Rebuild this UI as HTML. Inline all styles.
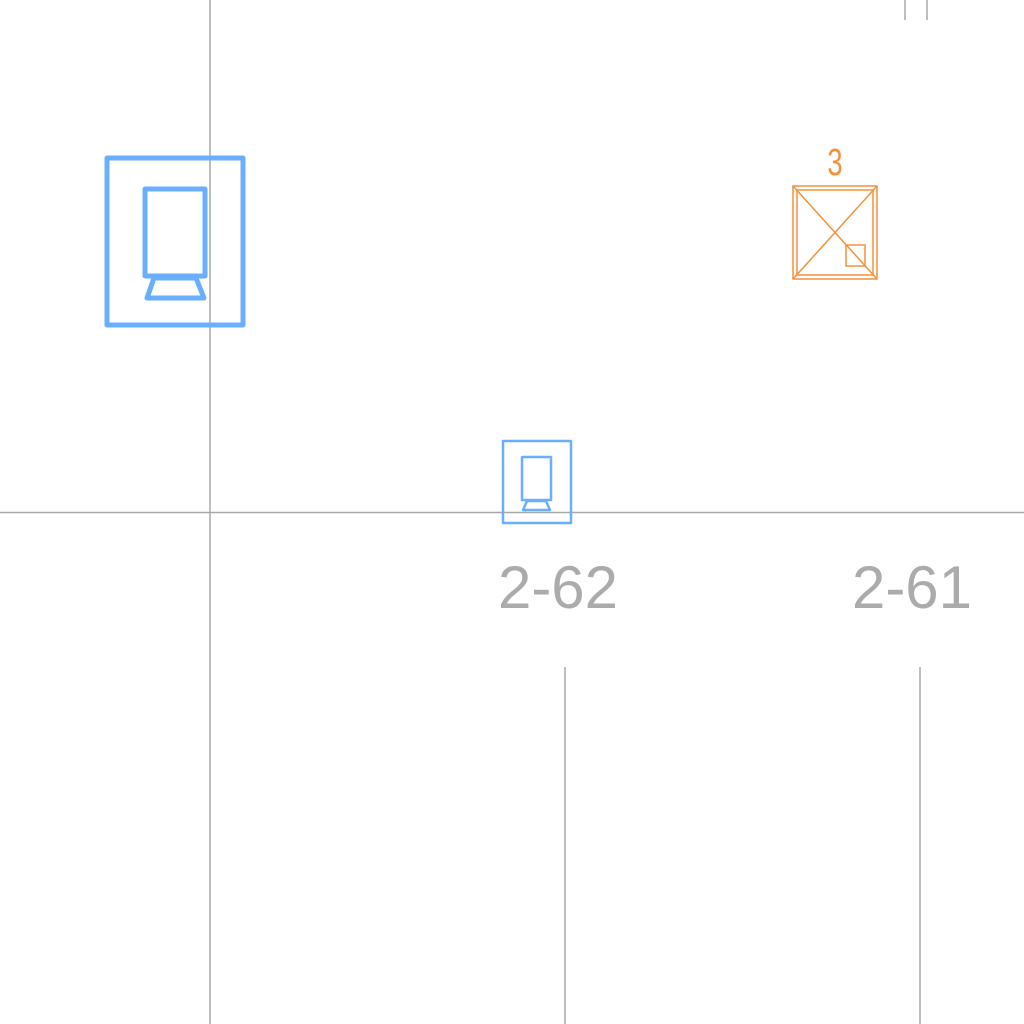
<!DOCTYPE html>
<html><head><meta charset="utf-8"><style>
html,body{margin:0;padding:0;background:#fff;width:1024px;height:1024px;overflow:hidden}
</style></head><body>
<svg width="1024" height="1024" viewBox="0 0 1024 1024" xmlns="http://www.w3.org/2000/svg">
<g stroke="#a8a8a8" stroke-width="1.5" fill="none">
<line x1="210" y1="0" x2="210" y2="1024"/>
<line x1="0" y1="512.5" x2="1024" y2="512.5"/>
<line x1="565" y1="667" x2="565" y2="1024"/>
<line x1="920" y1="667" x2="920" y2="1024"/>
<line x1="905" y1="0" x2="905" y2="20"/>
<line x1="927" y1="0" x2="927" y2="20"/>
</g>
<g stroke="#6aafff" stroke-width="5" fill="none" stroke-linejoin="round">
<rect x="107" y="158" width="136" height="167"/>
<rect x="145" y="189" width="60" height="87"/>
<polygon points="154,278 196,278 204,298 147,298"/>
</g>
<g stroke="#6aafff" stroke-width="2.5" fill="none" stroke-linejoin="round">
<rect x="503" y="441" width="68" height="82"/>
<rect x="522" y="457" width="29" height="43"/>
<polygon points="527,501 546,501 550,510 523,510"/>
</g>
<g stroke="#f5913a" stroke-width="1.5" fill="none">
<rect x="793" y="186" width="84" height="93"/>
<rect x="797" y="190" width="76" height="85"/>
<line x1="793" y1="186" x2="877" y2="279"/>
<line x1="877" y1="186" x2="793" y2="279"/>
<rect x="846" y="245" width="19" height="21"/>
</g>
<text x="835" y="175" font-family="Liberation Sans, sans-serif" font-size="38" fill="#f5913a" text-anchor="middle" transform="translate(835 175) scale(0.72 1) translate(-835 -175)">3</text>
<text x="558" y="608" font-family="Liberation Sans, sans-serif" font-size="60" fill="#ababab" text-anchor="middle">2-62</text>
<text x="912" y="608" font-family="Liberation Sans, sans-serif" font-size="60" fill="#ababab" text-anchor="middle">2-61</text>
</svg>
</body></html>
